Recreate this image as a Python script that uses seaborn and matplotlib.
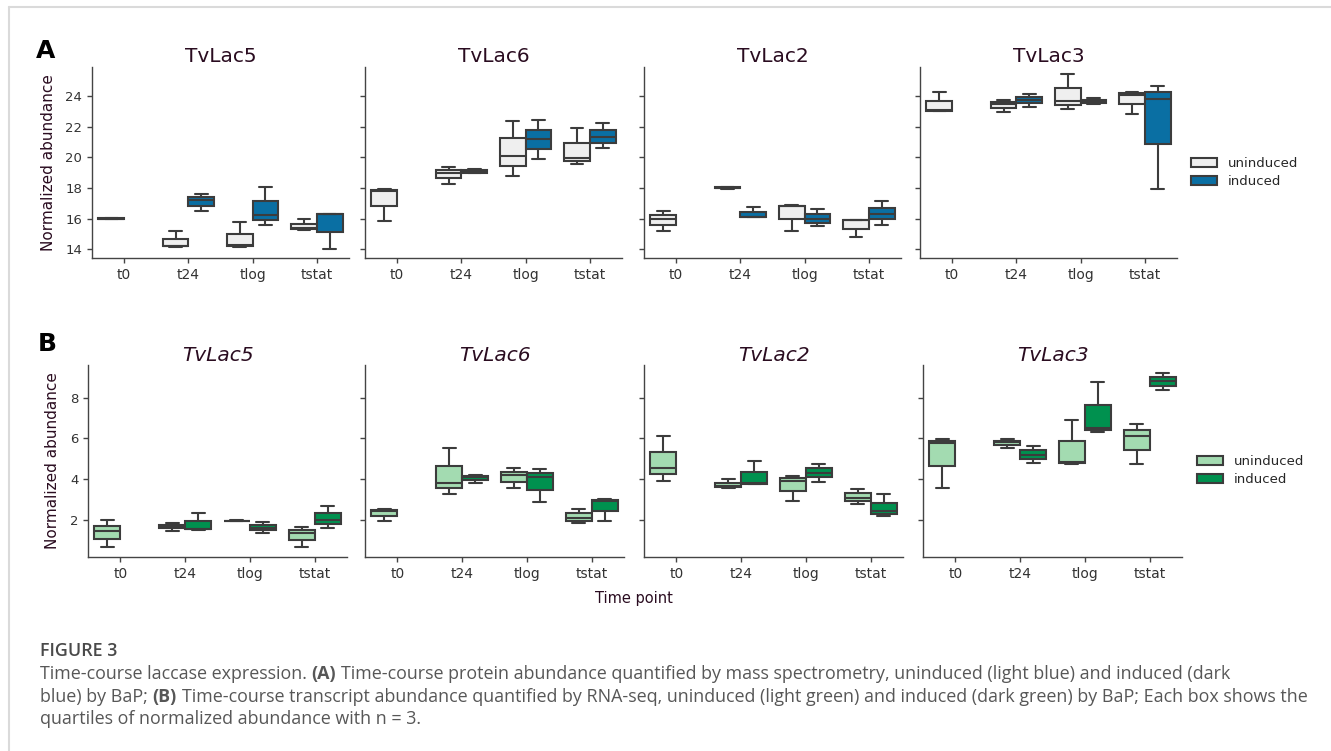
import numpy as np
import pandas as pd
import matplotlib
matplotlib.use("Agg")
import matplotlib.pyplot as plt
import seaborn as sns
from matplotlib.lines import Line2D
from matplotlib.ticker import MultipleLocator

# ---------------- data (n = 3 per box; None = not measured) ----------------
times = ["t0", "t24", "tlog", "tstat"]
genes = ["TvLac5", "TvLac6", "TvLac2", "TvLac3"]
conditions = ["uninduced", "induced"]

# (A) protein abundance
prot_lac5_un = [[15.98, 16.0, 16.03], [14.17, 14.18, 15.2], [14.17, 14.3, 15.74], [15.25, 15.35, 15.96]]
prot_lac5_in = [None, [16.5, 17.2, 17.62], [15.6, 16.2, 18.09], [14.0, 16.3, 16.32]]
prot_lac6_un = [[15.85, 17.8, 17.9], [18.25, 19.0, 19.35], [18.78, 20.1, 22.37], [19.55, 19.95, 21.89]]
prot_lac6_in = [None, [18.95, 19.05, 19.25], [19.87, 21.17, 22.41], [20.63, 21.3, 22.24]]
prot_lac2_un = [[15.2, 15.95, 16.52], [17.95, 18.02, 18.08], [15.2, 16.8, 16.87], [14.76, 15.9, 15.93]]
prot_lac2_in = [None, [16.07, 16.12, 16.78], [15.52, 15.95, 16.63], [15.59, 16.3, 17.13]]
prot_lac3_un = [[23.0, 23.08, 24.24], [22.98, 23.5, 23.74], [23.15, 23.65, 25.46], [22.83, 24.1, 24.24]]
prot_lac3_in = [None, [23.3, 23.76, 24.13], [23.48, 23.65, 23.9], [17.96, 23.8, 24.67]]

# (B) transcript abundance
rna_lac5_un = [[0.65, 1.45, 1.98], [1.46, 1.7, 1.82], [1.93, 1.95, 1.97], [0.65, 1.35, 1.63]]
rna_lac5_in = [None, [1.52, 1.54, 2.31], [1.35, 1.6, 1.9], [1.59, 2.0, 2.68]]
rna_lac6_un = [[1.95, 2.45, 2.52], [3.28, 3.8, 5.5], [3.54, 4.18, 4.55], [1.84, 2.08, 2.55]]
rna_lac6_in = [None, [3.79, 4.1, 4.2], [2.85, 4.11, 4.5], [1.92, 2.92, 3.04]]
rna_lac2_un = [[3.92, 4.55, 6.13], [3.54, 3.65, 4.0], [2.91, 3.9, 4.16], [2.75, 3.08, 3.5]]
rna_lac2_in = [None, [3.74, 3.8, 4.9], [3.85, 4.32, 4.75], [2.16, 2.45, 3.24]]
rna_lac3_un = [[3.56, 5.75, 5.97], [5.5, 5.82, 5.95], [4.76, 4.86, 6.88], [4.75, 6.13, 6.7]]
rna_lac3_in = [None, [4.8, 5.2, 5.63], [6.29, 6.52, 8.76], [8.37, 8.8, 9.2]]

ylim_A = (13.42, 25.9)
ylim_B = (0.17, 9.6)

prot_sets = [(prot_lac5_un, prot_lac5_in), (prot_lac6_un, prot_lac6_in),
             (prot_lac2_un, prot_lac2_in), (prot_lac3_un, prot_lac3_in)]
rna_sets = [(rna_lac5_un, rna_lac5_in), (rna_lac6_un, rna_lac6_in),
            (rna_lac2_un, rna_lac2_in), (rna_lac3_un, rna_lac3_in)]

# ---------------- style ----------------
sns.set_theme(style="ticks")
plt.rcParams['font.family'] = ['DejaVu Sans']

W, H = 1331, 751
fig = plt.figure(figsize=(W / 100, H / 100), dpi=100)

title_color = "#2a0c20"
line_color = "#3c3c3c"
pal_A = {"uninduced": "#efefef", "induced": "#0a6fa3"}
pal_B = {"uninduced": "#a3dbb1", "induced": "#00914f"}


def rect(xl, w, yt, yb):
    return [xl / W, 1 - yb / H, w / W, (yb - yt) / H]


def build_df(un, ind):
    rows = []
    for cond, series in (("uninduced", un), ("induced", ind)):
        for t, vals in zip(times, series):
            if vals is None:
                continue
            for v in vals:
                rows.append((t, cond, v))
    return pd.DataFrame(rows, columns=["time", "condition", "value"])


def draw_row(sets, lefts, width, yt, yb, pal, italic, title_pad, ylim, legend_anchor):
    axes = []
    for i, (g, (un, ind)) in enumerate(zip(genes, sets)):
        ax = fig.add_axes(rect(lefts[i], width, yt, yb), sharey=axes[0] if axes else None)
        df = build_df(un, ind)
        sns.boxplot(data=df, x="time", y="value", hue="condition",
                    order=times, hue_order=conditions, palette=pal,
                    saturation=1, linecolor=line_color, linewidth=1.5,
                    whis=np.inf, ax=ax)
        ax.set_xlabel("")
        ax.set_title(g, fontsize=14.5, color=title_color, pad=title_pad,
                     fontstyle="italic" if italic else "normal")
        sns.despine(ax=ax)
        for sp in ("left", "bottom"):
            ax.spines[sp].set_color("#444444")
            ax.spines[sp].set_linewidth(1.0)
        ax.tick_params(axis="both", colors="#444444", length=3.5, width=1.0,
                       labelcolor="#333333")
        ax.tick_params(axis="x", labelsize=10)
        ax.tick_params(axis="y", labelsize=9.5)
        ax.yaxis.set_major_locator(MultipleLocator(2))
        if i == 0:
            ax.set_ylabel("Normalized abundance", fontsize=11, color=title_color, labelpad=7)
        else:
            ax.set_ylabel("")
            ax.tick_params(labelleft=False)
        if i < 3:
            leg = ax.get_legend()
            if leg is not None:
                leg.remove()
        else:
            sns.move_legend(ax, "center left", bbox_to_anchor=legend_anchor,
                            bbox_transform=fig.transFigure, frameon=False,
                            title=None, fontsize=9.5, labelspacing=0.35,
                            handletextpad=0.8)
        axes.append(ax)
    axes[0].set_ylim(*ylim)
    return axes


axA = draw_row(prot_sets, [92, 365, 644, 920], 257, 67, 258, pal_A, False, 3.5,
               ylim_A, (1179 / W, 1 - 172.5 / H))
axB = draw_row(rna_sets, [88, 365, 644, 923], 259, 365, 557, pal_B, True, -1,
               ylim_B, (1185 / W, 1 - 470.5 / H))

# panel letters and shared x label
fig.text(46 / W, 1 - 51 / H, "A", fontsize=18, fontweight="bold", color="black",
         ha="center", va="center")
fig.text(47 / W, 1 - 344 / H, "B", fontsize=18, fontweight="bold", color="black",
         ha="center", va="center")
fig.text(634 / W, 1 - 599 / H, "Time point", fontsize=10.5, color=title_color,
         ha="center", va="center")

# frame lines
fig.add_artist(Line2D([9 / W, 1], [1 - 7 / H, 1 - 7 / H], transform=fig.transFigure,
                      color="#dadada", lw=1.5))
fig.add_artist(Line2D([9 / W, 9 / W], [0, 1 - 7 / H], transform=fig.transFigure,
                      color="#dadada", lw=1.5))

# caption
cap = fig.add_axes([0, 0, 1, 1], zorder=-5)
cap.axis("off")
cap_font = dict(family=["Open Sans", "DejaVu Sans"], fontsize=12.9, color="#575757")
cap.text(40 / W, 1 - 651 / H, "FIGURE 3", transform=fig.transFigure, va="center",
         ha="left", fontweight="semibold", **{**cap_font, "color": "#4a4a4a"})


def rich_line(y, segments):
    prev = None
    for txt, weight in segments:
        lead = txt.startswith(" ")
        txt = txt.strip()
        if prev is None:
            prev = cap.text(40 / W, 1 - y / H, txt, transform=fig.transFigure,
                            va="center", ha="left", fontweight=weight, **cap_font)
        else:
            prev = cap.annotate(txt, xy=(1, 0.5), xycoords=prev,
                                xytext=(3.4 if lead else 0, 0), textcoords="offset points",
                                va="center", ha="left", fontweight=weight, **cap_font)
    return prev


rich_line(674, [("Time-course laccase expression.", "normal"), (" (A)", "bold"),
                (" Time-course protein abundance quantified by mass spectrometry, uninduced (light blue) and induced (dark", "normal")])
rich_line(697, [("blue) by BaP;", "normal"), (" (B)", "bold"),
                (" Time-course transcript abundance quantified by RNA-seq, uninduced (light green) and induced (dark green) by BaP; Each box shows the", "normal")])
rich_line(719, [("quartiles of normalized abundance with n = 3.", "normal")])

fig.savefig("out.png", dpi=100)
